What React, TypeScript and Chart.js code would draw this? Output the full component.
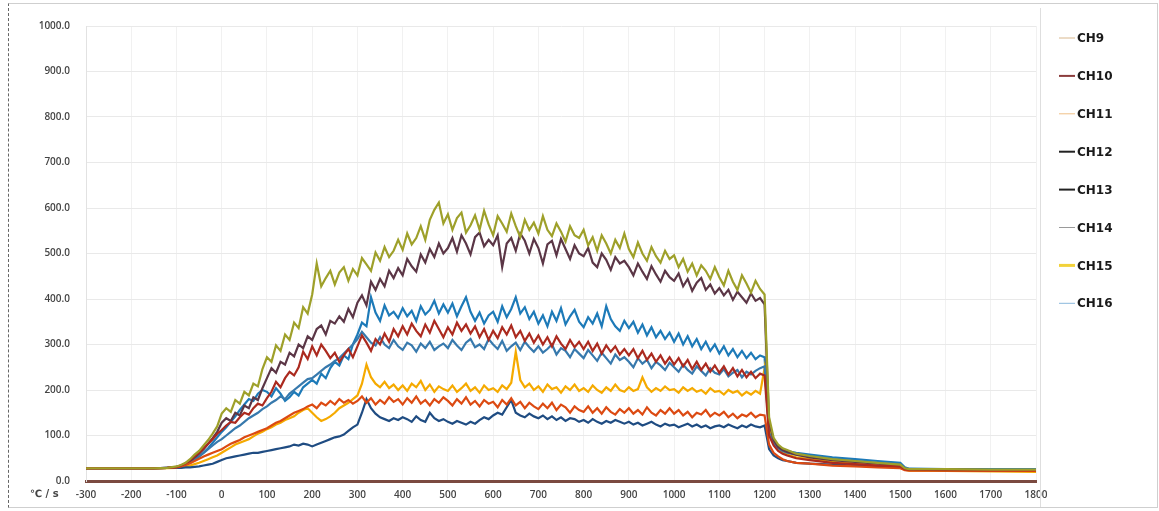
import React, { useEffect, useRef } from "react";
import { Chart, registerables } from "chart.js";

Chart.register(...registerables);

// time axis (s)
const TIME = [
  -300, -250, -200, -150, -120,
  -100, -90, -80, -70, -60, -50, -40, -30, -20, -10,
  0, 10, 20, 30, 40, 50, 60, 70, 80, 90,
  100, 110, 120, 130, 140, 150, 160, 170, 180, 190,
  200, 210, 220, 230, 240, 250, 260, 270, 280, 290,
  300, 310, 320, 330, 340, 350, 360, 370, 380, 390,
  400, 410, 420, 430, 440, 450, 460, 470, 480, 490,
  500, 510, 520, 530, 540, 550, 560, 570, 580, 590,
  600, 610, 620, 630, 640, 650, 660, 670, 680, 690,
  700, 710, 720, 730, 740, 750, 760, 770, 780, 790,
  800, 810, 820, 830, 840, 850, 860, 870, 880, 890,
  900, 910, 920, 930, 940, 950, 960, 970, 980, 990,
  1000, 1010, 1020, 1030, 1040, 1050, 1060, 1070, 1080, 1090,
  1100, 1110, 1120, 1130, 1140, 1150, 1160, 1170, 1180, 1190,
  1200,
  1210, 1220, 1230, 1240, 1250, 1270, 1300,
  1350, 1400, 1450, 1500, 1510, 1520, 1600, 1700, 1800,
];

const NAMES = ["CH9", "CH10", "CH11", "CH12", "CH13", "CH14", "CH15", "CH16"];

const CH9 = [
  28, 28, 28, 28, 29,
  32, 35, 40, 48, 58, 66, 78, 90, 104, 120,
  148, 160, 152, 178, 170, 196, 188, 214, 208, 246,
  272, 262, 298, 286, 322, 310, 348, 336, 382, 368,
  410, 478, 428, 446, 462, 432, 458, 470, 440, 466,
  452, 490, 476, 462, 502, 484, 514, 492, 506, 530,
  508, 544, 520, 534, 560, 530, 574, 596, 612, 566,
  586, 552, 578, 590, 546, 562, 584, 552, 594, 564,
  540, 582, 566, 548, 588, 560, 536, 574, 552, 568,
  544, 582, 552, 538, 566, 548, 526, 560, 540, 534,
  552, 518, 536, 506, 540, 522, 500, 530, 512, 544,
  510, 492, 524, 500, 484, 514, 494, 480, 506, 488,
  496, 470, 488, 460, 478, 452, 474, 462, 444, 470,
  448, 430, 462, 438, 420, 452, 434, 414, 440, 422,
  410,
  140, 95, 80, 72, 68, 60, 55,
  48, 44, 40, 36, 28, 26, 26, 25, 25,
];

const CH10 = [
  28, 28, 28, 28, 29,
  31, 34, 39, 46, 54, 62, 72, 82, 92, 104,
  112, 122, 130, 128, 140, 150, 146, 160, 170, 166,
  182, 196, 218, 206, 226, 240, 232, 250, 284, 268,
  296, 276, 300, 286, 270, 282, 262, 276, 290, 272,
  296, 320, 304, 286, 312, 300, 324, 306, 334, 318,
  340, 322, 346, 330, 318, 344, 326, 352, 334, 316,
  338, 322, 348, 330, 344, 324, 340, 316, 334, 310,
  330, 314, 338, 322, 342, 316, 330, 308, 324, 304,
  320, 300, 316, 296, 318, 302, 290, 310, 294, 306,
  290, 306, 286, 302, 280, 298, 284, 296, 278, 290,
  276, 290, 270, 286, 266, 280, 262, 276, 258, 272,
  256, 270, 252, 266, 246, 262, 244, 258, 240, 254,
  238, 252, 234, 248, 230, 244, 228, 240, 226, 236,
  232,
  100, 78, 66, 60, 56, 50, 46,
  40, 37, 34, 32, 26, 25, 24, 24, 24,
];

const CH11 = [
  28, 28, 28, 28, 29,
  30, 32, 35, 39, 44, 49, 54, 58, 62, 66,
  70, 76, 82, 86, 90, 96, 100, 104, 108, 112,
  116, 122, 128, 132, 138, 144, 150, 154, 158, 164,
  168, 160, 172, 166, 176, 168, 180, 172, 178, 170,
  176, 186, 172, 182, 168, 178, 170, 184, 174, 180,
  168, 182, 172, 186, 170, 178, 166, 180, 172, 184,
  176, 166, 180, 170, 184, 168, 176, 164, 178, 170,
  174, 162, 178, 168, 182, 166, 174, 160, 172, 164,
  158, 170, 160, 172, 156, 168, 162, 150, 164, 156,
  152, 164, 150, 160, 148, 162, 152, 146, 158, 150,
  160, 148, 156, 146, 162, 150, 144, 156, 148, 160,
  148, 156, 144, 152, 140, 150, 146, 156, 142, 150,
  144, 152, 140, 148, 138, 146, 142, 150, 140, 146,
  144,
  80, 62, 54, 48, 44, 40, 38,
  34, 32, 30, 28, 24, 23, 23, 22, 22,
];

const CH12 = [
  28, 28, 28, 28, 29,
  31, 34, 38, 44, 52, 60, 70, 82, 94, 108,
  128, 138, 132, 150, 144, 166, 160, 184, 178, 204,
  226, 248, 238, 262, 256, 282, 274, 300, 292, 318,
  310, 334, 342, 322, 352, 346, 362, 350, 378, 360,
  392, 408, 386, 438, 420, 444, 428, 462, 446, 468,
  452, 488, 472, 460, 498, 480, 510, 492, 522, 500,
  512, 534, 504, 540, 522, 498, 536, 546, 516, 530,
  518, 540, 470, 522, 534, 506, 544, 528, 500, 532,
  512, 478, 520, 528, 496, 532, 510, 488, 518, 500,
  494, 512, 480, 470, 500, 486, 464, 492, 478, 484,
  470, 452, 478, 460, 444, 472, 454, 438, 462, 448,
  440, 456, 428, 444, 418, 436, 446, 420, 432, 412,
  424, 408, 420, 398, 416, 404, 392, 412, 396, 402,
  388,
  130, 90, 75, 68, 64, 58, 52,
  46, 42, 38, 34, 27, 25, 25, 24, 24,
];

const CH13 = [
  28, 28, 28, 28, 29,
  29, 29, 30, 30, 31, 32, 34, 36, 38, 42,
  46, 50, 52, 54, 56, 58, 60, 62, 62, 64,
  66, 68, 70, 72, 74, 76, 80, 78, 82, 80,
  76, 80, 84, 88, 92, 96, 98, 102, 110, 118,
  124, 150, 180, 160, 148, 140, 136, 132, 138, 134,
  140, 136, 130, 142, 134, 130, 150, 138, 132, 136,
  130, 126, 132, 128, 124, 130, 126, 134, 140, 136,
  144, 150, 146, 162, 178, 150, 144, 140, 148, 142,
  138, 144, 136, 142, 134, 140, 132, 138, 136, 130,
  134, 128, 136, 130, 126, 132, 128, 134, 130, 126,
  130, 124, 128, 122, 126, 130, 124, 120, 126, 122,
  124, 118, 122, 126, 120, 124, 118, 122, 116, 120,
  122, 118, 124, 120, 116, 122, 118, 124, 120, 118,
  122,
  70, 56, 50, 46, 44, 40, 38,
  36, 34, 32, 30, 26, 25, 25, 24, 24,
];

const CH14 = [
  28, 28, 28, 28, 29,
  30, 32, 36, 41, 47, 54, 62, 70, 78, 86,
  92, 100, 108, 116, 122, 130, 138, 144, 150, 158,
  164, 172, 178, 186, 180, 192, 200, 208, 216, 224,
  226, 234, 242, 250, 256, 264, 270, 280, 290, 300,
  312, 328, 316, 304, 298, 316, 300, 292, 310, 296,
  288, 304, 298, 284, 302, 292, 306, 288, 296, 302,
  292, 310, 298, 288, 304, 312, 294, 300, 290, 312,
  300, 290, 308, 286, 296, 304, 288, 306, 294, 284,
  296, 282, 290, 300, 278, 292, 286, 272, 290, 280,
  270, 288, 276, 264, 282, 270, 258, 278, 266, 272,
  262, 250, 270, 258, 266, 248, 262, 254, 244, 260,
  250, 240, 256, 244, 236, 252, 242, 232, 248, 238,
  234, 246, 230, 238, 244, 228, 240, 234, 242, 248,
  252,
  105, 82, 72, 66, 62, 58, 54,
  48, 44, 40, 37, 28, 26, 25, 25, 25,
];

const CH15 = [
  27, 27, 27, 27, 28,
  29, 30, 32, 34, 37, 40, 44, 48, 52, 56,
  62, 68, 74, 80, 84, 88, 92, 98, 104, 108,
  114, 118, 124, 128, 134, 138, 142, 150, 156, 160,
  150, 140, 132, 136, 142, 150, 160, 166, 172, 180,
  188, 214, 256, 228, 214, 206, 218, 204, 212, 200,
  210, 198, 214, 206, 220, 200, 212, 196, 208, 202,
  198, 210, 196, 204, 214, 198, 206, 194, 210, 200,
  204, 196, 210, 202, 216, 284, 222, 206, 214, 200,
  208, 196, 212, 202, 206, 194, 208, 200, 212, 198,
  204, 196, 210, 200, 194, 206, 198, 212, 200, 196,
  206, 198, 202, 228, 206, 196, 204, 198, 208, 200,
  202, 194, 206, 198, 204, 196, 200, 192, 204, 196,
  198, 190, 200, 194, 198, 188, 196, 190, 198, 192,
  248,
  120, 90, 72, 64, 58, 52, 48,
  42, 38, 34, 31, 25, 23, 22, 21, 20,
];

const CH16 = [
  28, 28, 28, 28, 29,
  30, 32, 35, 40, 46, 54, 62, 72, 84, 96,
  108, 118, 130, 142, 156, 168, 180, 176, 192, 200,
  196, 186, 204, 192, 176, 184, 196, 188, 206, 214,
  222, 214, 236, 226, 248, 262, 254, 276, 268, 300,
  322, 348, 340, 404, 370, 352, 386, 364, 372, 358,
  380, 362, 374, 352, 384, 366, 376, 396, 368, 388,
  370, 390, 362, 384, 404, 372, 352, 370, 346, 364,
  372, 350, 384, 360, 378, 404, 368, 382, 356, 372,
  346, 364, 340, 372, 352, 380, 344, 362, 376, 350,
  338, 360, 346, 368, 340, 384, 356, 340, 330, 352,
  336, 350, 326, 344, 320, 338, 316, 330, 312, 326,
  306, 324, 300, 318, 296, 312, 290, 306, 286, 300,
  280, 296, 276, 290, 272, 286, 270, 282, 268, 276,
  272,
  110, 85, 76, 70, 66, 62, 58,
  52, 48, 44, 40, 30, 27, 26, 26, 26,
];

const SERIES = [CH9, CH10, CH11, CH12, CH13, CH14, CH15, CH16];
const LINE_COLORS = ["#9ea02a", "#ab2a1f", "#dc4a12", "#5b3646", "#1f4c82", "#3779ad", "#f5aa00", "#1d7ab8"];
const LEGEND_COLORS = ["#d9b88e", "#8b3c3c", "#f0c088", "#222222", "#222222", "#9a9a9a", "#f2d23a", "#8ab8dc"];
const LEGEND_WIDTHS = [1, 2, 1, 2, 2, 1, 3, 1];

const sideLegend = {
  id: "sideLegend",
  afterDraw(chart: any) {
    const ctx = chart.ctx;
    ctx.save();
    ctx.strokeStyle = "#dedede";
    ctx.lineWidth = 1;
    ctx.beginPath();
    ctx.moveTo(1031.5, 4);
    ctx.lineTo(1031.5, 503);
    ctx.stroke();
    NAMES.forEach((n, i) => {
      const y = 34 + i * 37.9;
      ctx.strokeStyle = LEGEND_COLORS[i];
      ctx.lineWidth = LEGEND_WIDTHS[i];
      ctx.beginPath();
      ctx.moveTo(1050, y);
      ctx.lineTo(1066, y);
      ctx.stroke();
      ctx.fillStyle = "#1a1a1a";
      ctx.font = "bold 12px 'DejaVu Sans'";
      ctx.textBaseline = "middle";
      ctx.textAlign = "left";
      ctx.fillText(n, 1068, y + 1);
    });
    ctx.font = "bold 10px 'DejaVu Sans'";
    ctx.fillStyle = "#444";
    ctx.textBaseline = "middle";
    ctx.fillText("℃ / s", 21, 490);
    ctx.restore();
  },
};

export default function App() {
  const ref = useRef<HTMLCanvasElement>(null);
  useEffect(() => {
    if (!ref.current) return;
    const tickFont = { family: "'Open Sans'", size: 10, weight: "600" as any };
    const chart = new Chart(ref.current, {
      type: "line",
      data: {
        datasets: SERIES.map((s, i) => ({
          label: NAMES[i],
          data: TIME.map((t, j) => ({ x: t, y: s[j] })),
          borderColor: LINE_COLORS[i],
          backgroundColor: LINE_COLORS[i],
          borderWidth: 2.2,
          pointRadius: 0,
          tension: 0,
          fill: false,
        })),
      },
      options: {
        animation: false,
        responsive: false,
        maintainAspectRatio: false,
        layout: { padding: { top: 14, right: 121, left: 0, bottom: 0 } },
        plugins: { legend: { display: false }, tooltip: { enabled: false } },
        scales: {
          x: {
            type: "linear",
            min: -300,
            max: 1800,
            ticks: {
              stepSize: 100,
              padding: 8,
              maxRotation: 0,
              autoSkip: false,
              color: "#444",
              font: tickFont,
              callback: (v: any) => String(v),
            },
            grid: { color: "#f1f1f1", drawTicks: false },
            border: { color: "#7b4a40", width: 3 },
            afterFit: (s: any) => {
              s.height = 26;
            },
          },
          y: {
            min: 0,
            max: 1000,
            ticks: {
              stepSize: 100,
              padding: 16,
              color: "#444",
              font: tickFont,
              callback: (v: any) => Number(v).toFixed(1),
            },
            grid: { color: "#e9e9e9", drawTicks: false },
            border: { color: "#e2e2e2" },
            afterFit: (s: any) => {
              s.width = 77;
            },
          },
        },
      },
      plugins: [sideLegend],
    });
    return () => chart.destroy();
  }, []);

  return (
    <div style={{ position: "fixed", left: 0, top: 0, width: 1159, height: 511, background: "#fff" }}>
      <div
        style={{
          position: "absolute",
          left: 8,
          top: 3,
          width: 1150,
          height: 505,
          boxSizing: "border-box",
          border: "1px solid #cfcfcf",
          borderLeft: "1px dashed #666",
        }}
      >
        <canvas ref={ref} width={1148} height={503} style={{ display: "block" }} />
      </div>
    </div>
  );
}
